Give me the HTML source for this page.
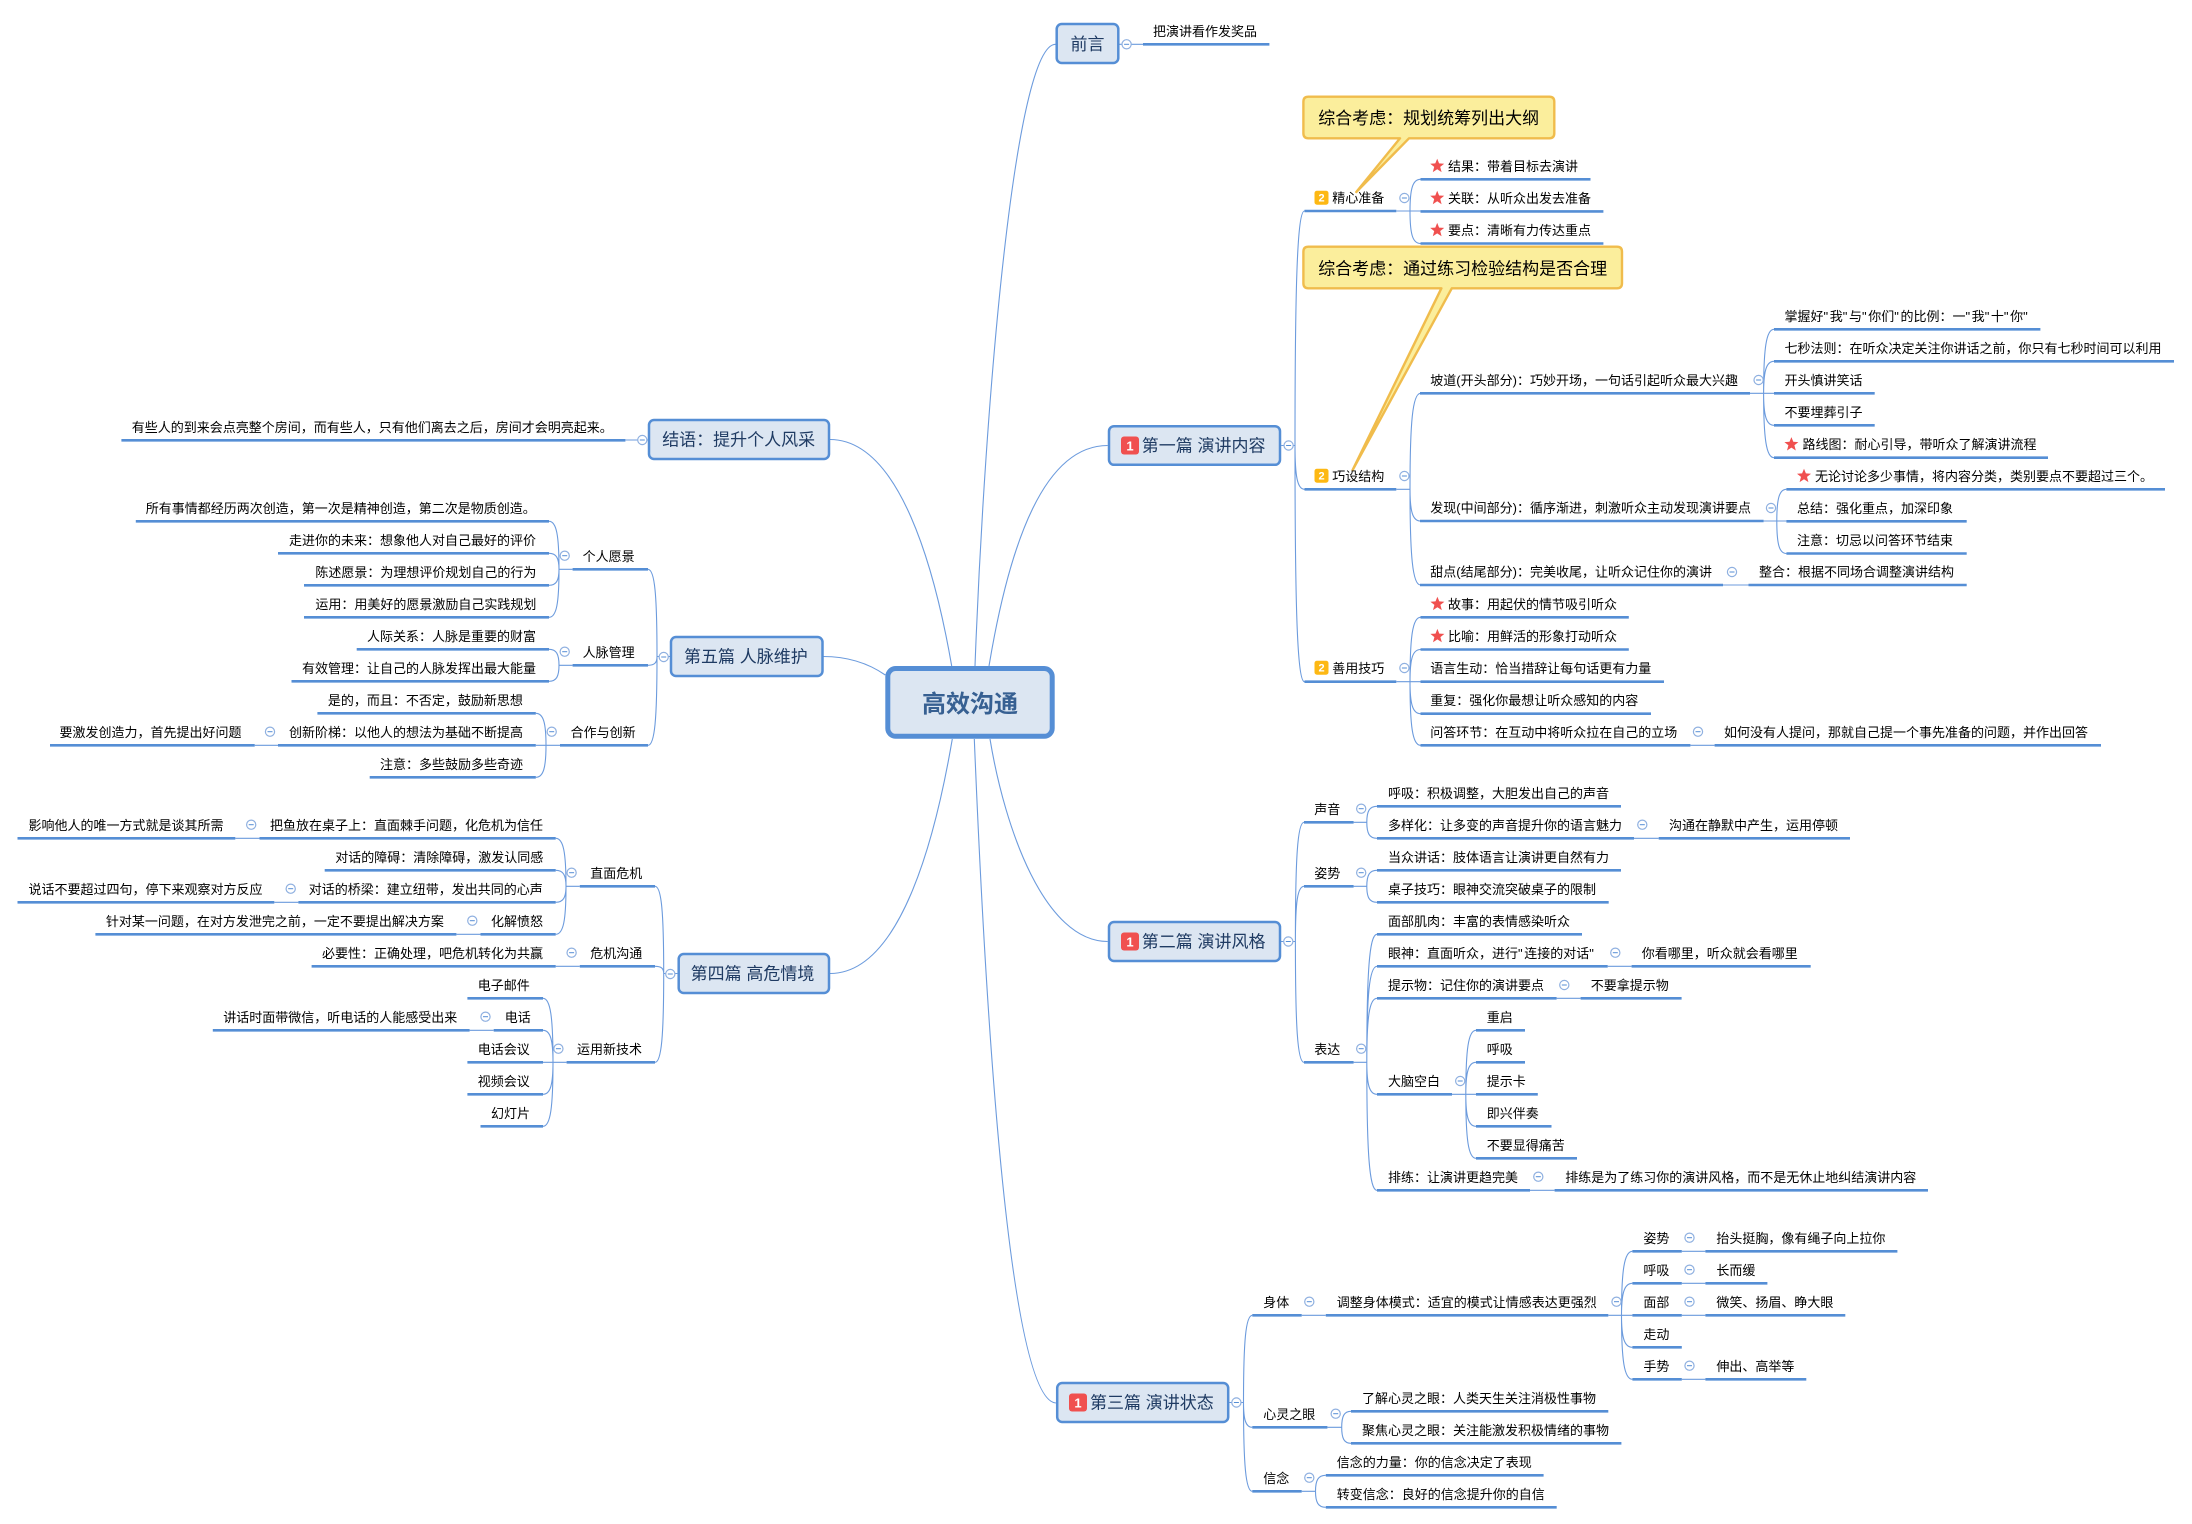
<!DOCTYPE html>
<html lang="zh"><head><meta charset="utf-8"><title>高效沟通</title>
<style>
html,body{margin:0;padding:0;background:#fff}
svg{display:block}
text{font-family:"Liberation Sans","Noto Sans CJK SC",sans-serif;font-size:13px;fill:#000}
.t text{font-size:17px;fill:#1F3B63}
.b text{font-size:17px;fill:#000}
.n{font-weight:700;fill:#fff!important;text-anchor:middle}
.q{letter-spacing:1.6px}
</style></head><body>
<svg width="2192" height="1524" viewBox="0 0 2192 1524" xmlns="http://www.w3.org/2000/svg">
<defs>
<g id="m"><circle r="4.6" fill="#fff" stroke="#8FB0E0" stroke-width="1.2"/><path d="M-2.5 0H2.5" stroke="#558ED5" stroke-width="1"/></g>
<polygon id="s" points="0,-7 1.9,-2.3 7,-2 3,1.2 4.4,6.4 0,3.5 -4.4,6.4 -3,1.2 -7,-2 -1.9,-2.3" fill="#F0504F"/>
</defs>
<rect width="2192" height="1524" fill="#fff"/>

<!-- main connectors -->
<g fill="none" stroke="#6C9BDD" stroke-width="1.1">
<path d="M975 666C985 400 1015 44.3 1055.5 44.3"/>
<path d="M989 666C1010 540 1045 445.5 1107.7 445.5"/>
<path d="M990 739C1005 830 1045 941.5 1107.7 941.5"/>
<path d="M974.3 739C985 1000 1008 1400 1055.9 1403"/>
<path d="M952.3 739C935 840 900 973.5 830 973.5"/>
<path d="M885.3 675C868 663 848 656.5 823 656.5"/>
<path d="M951.7 666C935 570 900 439.5 829.9 439.5"/>
</g>

<!-- thin branches -->
<g fill="none" stroke="#6C9BDD" stroke-width="1.1">
<path d="M1119.5 44.3H1143"/>
<path d="M1281.2 445.5H1295M1295 445.5c0-164 2.4-234.5 9.5-234.5M1295 445.5c0 31 2.4 43.8 9.5 43.8M1295 445.5c0 165 2.4 236.2 9.5 236.2"/>
<path d="M1396.3 211H1420.5M1410 211c0-22 2.6-31.7 10.5-31.7M1410 211c0 23 2.6 32.5 10.5 32.5"/>
<path d="M1396.3 489.3H1410M1410 489.3c0-67 2.6-96 10.5-96M1410 489.3c0 22 2.6 31.7 10.5 31.7M1410 489.3c0 67 2.6 95.7 10.5 95.7"/>
<path d="M1396.3 681.7H1420.5M1410 681.7c0-45 2.6-64.4 10.5-64.4M1410 681.7c0-23 2.6-32.2 10.5-32.2M1410 681.7c0 22 2.6 32 10.5 32M1410 681.7c0 45 2.6 63.6 10.5 63.6"/>
<path d="M1750 393.3H1774M1763.6 393.3c0-45 2.6-64 10.4-64M1763.6 393.3c0-22 2.6-32 10.4-32M1763.6 393.3c0 22 2.6 32 10.4 32M1763.6 393.3c0 45 2.6 64.4 10.4 64.4"/>
<path d="M1763.6 521H1786.4M1776.8 521c0-22 2.4-31.7 9.6-31.7M1776.8 521c0 23 2.4 32.5 9.6 32.5"/>
<path d="M1723 585H1748.5M1690.4 745.3H1714.6"/>

<path d="M1281 941.5H1295.4M1295.4 941.5c0-83 2.1-119.2 8.6-119.2M1295.4 941.5c0-39 2.1-55.2 8.6-55.2M1295.4 941.5c0 85 2.1 120.8 8.6 120.8"/>
<path d="M1353.6 822.3H1366.8M1366.8 822.3c0-11 2.5-16 10.2-16M1366.8 822.3c0 11 2.5 16 10.2 16"/>
<path d="M1353.6 886.3H1366.8M1366.8 886.3c0-11 2.5-16 10.2-16M1366.8 886.3c0 11 2.5 16 10.2 16"/>
<path d="M1353.6 1062.3H1366.8M1366.8 1062.3c0-90 2.5-128 10.2-128M1366.8 1062.3c0-67 2.5-96 10.2-96M1366.8 1062.3c0-45 2.5-64 10.2-64M1366.8 1062.3c0 22 2.5 32 10.2 32M1366.8 1062.3c0 90 2.5 128 10.2 128"/>
<path d="M1634 838.3H1658.7M1607.7 966.3H1631.6M1556.6 998.3H1580.6M1530 1190.3H1554.6"/>
<path d="M1452 1094.3H1476M1465.8 1094.3c0-45 2.5-64 10.2-64M1465.8 1094.3c0-22 2.5-32 10.2-32M1465.8 1094.3c0 22 2.5 32 10.2 32M1465.8 1094.3c0 45 2.5 64 10.2 64"/>

<path d="M1229.2 1402.5H1243.5M1243.5 1402.5c0-61 2.2-87.2 8.8-87.2M1243.5 1402.5c0 17 2.2 24.8 8.8 24.8M1243.5 1402.5c0 62 2.2 88.8 8.8 88.8"/>
<path d="M1301.7 1315.3H1325.8M1608.3 1315.3H1632.4M1621.5 1315.3c0-45 2.7-64 10.9-64M1621.5 1315.3c0-22 2.7-32 10.9-32M1621.5 1315.3c0 22 2.7 32 10.9 32M1621.5 1315.3c0 45 2.7 64 10.9 64"/>
<path d="M1681.8 1251.3H1705.4M1681.8 1283.3H1705.4M1681.8 1315.3H1705.4M1681.8 1379.3H1705.4"/>
<path d="M1327.4 1427.3H1341.7M1341.7 1427.3c0-11 2.3-16 9.3-16M1341.7 1427.3c0 11 2.3 16 9.3 16"/>
<path d="M1301.7 1491.3H1315.5M1315.5 1491.3c0-11 2.6-16 10.3-16M1315.5 1491.3c0 11 2.6 16 10.3 16"/>

<path d="M648 440H625.4"/>
<path d="M670 656.5H657M657 656.5c0-61-2.2-87.2-9-87.2M657 656.5c0 6-2.2 8.8-9 8.8M657 656.5c0 62-2.2 88.8-9 88.8"/>
<path d="M572.6 569.3H559M559 569.3c0-34-2.5-48-10-48M559 569.3c0-11-2.5-16-10-16M559 569.3c0 11-2.5 16-10 16M559 569.3c0 34-2.5 48-10 48"/>
<path d="M572.6 665.3H559M559 665.3c0-11-2.5-16-10-16M559 665.3c0 11-2.5 16-10 16"/>
<path d="M560 745.3H535.8M546 745.3c0-22-2.5-32-10.2-32M546 745.3c0 22-2.5 32-10.2 32M278 745.3H254.7"/>

<path d="M677.4 973.5H663.7M663.7 973.5c0-61-2.2-87.2-8.7-87.2M663.7 973.5c0-5-2.2-7.2-8.7-7.2M663.7 973.5c0 62-2.2 88.8-8.7 88.8"/>
<path d="M579.8 886.3H566M566 886.3c0-34-2.6-48-10.3-48M566 886.3c0-11-2.6-16-10.3-16M566 886.3c0 11-2.6 16-10.3 16M566 886.3c0 34-2.6 48-10.3 48"/>
<path d="M298.4 902.3H274.3M259.5 838.3H235.3M480.5 934.3H456.4M579.8 966.3H555.7M493.7 1030.3H469.6"/>
<path d="M566.6 1062.3H543M553 1062.3c0-45-2.5-64-10-64M553 1062.3c0-22-2.5-32-10-32M553 1062.3c0 22-2.5 32-10 32M553 1062.3c0 45-2.5 64-10 64"/>
</g>

<!-- thick underlines -->
<path fill="none" stroke="#558ED5" stroke-width="2.6" d="
M1143 44.3H1269.4
M1304.5 211H1396.3M1304.5 489.3H1396.3M1304.5 681.7H1396.3
M1420.5 179.3H1590.5M1420.5 211.4H1603.4M1420.5 243.5H1603.4
M1420 393.3H1750M1420 521H1763.6M1420 585H1723M1748.5 585H1966.7
M1774 329.3H2040.4M1774 361.3H2174M1774 393.3H1874.7M1774 425.3H1874.7M1774 457.7H2048
M1786.4 489.3H2165M1786.4 521.3H1966.7M1786.4 553.5H1966.7
M1420.5 617.3H1628.8M1420.5 649.5H1628.8M1420.5 681.7H1664M1420.5 713.7H1651M1420.5 745.3H1690.4M1714.6 745.3H2101
M1304 822.3H1353.6M1304 886.3H1353.6M1304 1062.3H1353.6
M1377 806.3H1621M1377 838.3H1634M1658.7 838.3H1850M1377 870.3H1621M1377 902.3H1608.7
M1377 934.3H1582M1377 966.3H1607.7M1631.6 966.3H1810.7M1377 998.3H1556.6M1580.6 998.3H1681.6
M1377 1094.3H1452M1377 1190.3H1530M1554.6 1190.3H1928
M1476 1030.3H1525M1476 1062.3H1525M1476 1094.3H1537.8M1476 1126.3H1551.5M1476 1158.3H1577
M1252.3 1315.3H1301.7M1325.8 1315.3H1608.3M1252.3 1427.3H1327.4M1252.3 1491.3H1301.7
M1632.4 1251.3H1681.8M1705.4 1251.3H1897.4M1632.4 1283.3H1681.8M1705.4 1283.3H1767.4M1632.4 1315.3H1681.8M1705.4 1315.3H1845.3M1632.4 1347.3H1681.8M1632.4 1379.3H1681.8M1705.4 1379.3H1806.3
M1351 1411.3H1608.3M1351 1443.3H1621.4M1325.8 1475.3H1543.6M1325.8 1507.3H1556.7
M121.4 440.3H625.4
M572.6 569.3H648M572.6 665.3H648M560 745.3H648
M135.8 521.3H549M278 553.3H549M304 585.3H549M304 617.3H549M356.7 649.3H549M291.5 681.3H549
M317.4 713.3H535.8M278 745.3H535.8M50 745.3H254.7M369.7 777.3H535.8
M579.8 886.3H655M579.8 966.3H655M566.6 1062.3H655
M259.5 838.3H555.7M17.5 838.3H235.3M324.7 870.3H555.7M298.4 902.3H555.7M17.5 902.3H274.3M480.5 934.3H555.7M95.4 934.3H456.4M311.6 966.3H555.7
M467.4 998.3H543M493.7 1030.3H543M212.8 1030.3H469.6M467.4 1062.3H543M467.4 1094.3H543M480.5 1126.3H543
"/>

<!-- callouts -->
<g fill="#FBEE9C" stroke="#F0BC4C" stroke-width="2.4" stroke-linejoin="round">
<path d="M1308 96.7H1549.3q5 0 5 5V133.3q0 5-5 5H1409L1356.3 192L1400 138.3H1308.4q-5 0-5-5V101.7q0-5 5-5z"/>
<path d="M1308 246.7H1617q5 0 5 5V283.3q0 5-5 5H1451.8L1352.6 470L1441.4 288.3H1308.4q-5 0-5-5V251.7q0-5 5-5z"/>
</g>

<!-- central & topics -->
<rect x="887.8" y="668.5" width="164.4" height="67.8" rx="8" fill="#DCE6F2" stroke="#558ED5" stroke-width="5"/>
<text x="970" y="712" text-anchor="middle" style="font-size:24px;font-weight:700;fill:#376092">高效沟通</text>
<g fill="#DCE6F2" stroke="#558ED5" stroke-width="2.5">
<rect x="1056.7" y="24" width="61.6" height="39" rx="5"/>
<rect x="1109" y="426.2" width="171" height="38.6" rx="5"/>
<rect x="1109" y="922" width="171" height="39" rx="5"/>
<rect x="1057.2" y="1383" width="171" height="39" rx="5"/>
<rect x="649" y="420" width="180" height="39" rx="5"/>
<rect x="671" y="637" width="151.5" height="39" rx="5"/>
<rect x="678.7" y="954" width="150.3" height="39" rx="5"/>
</g>
<g fill="#F0504F">
<rect x="1121" y="436.5" width="18" height="18" rx="3"/>
<rect x="1121" y="932.5" width="18" height="18" rx="3"/>
<rect x="1069" y="1393.5" width="18" height="18" rx="3"/>
</g>
<g fill="#FDB813">
<rect x="1314.5" y="190.7" width="14" height="14" rx="2.5"/>
<rect x="1314.5" y="468.7" width="14" height="14" rx="2.5"/>
<rect x="1314.5" y="660.7" width="14" height="14" rx="2.5"/>
</g>
<text class="n" x="1130" y="450.5" style="font-size:13px">1</text>
<text class="n" x="1130" y="946.5" style="font-size:13px">1</text>
<text class="n" x="1078" y="1407.5" style="font-size:13px">1</text>
<text class="n" x="1321.5" y="201.7" style="font-size:11px">2</text>
<text class="n" x="1321.5" y="479.7" style="font-size:11px">2</text>
<text class="n" x="1321.5" y="671.7" style="font-size:11px">2</text>

<g class="t">
<text x="1070.5" y="50">前言</text>
<text x="1141.8" y="451.5">第一篇 演讲内容</text>
<text x="1141.8" y="947.5">第二篇 演讲风格</text>
<text x="1090" y="1408.5">第三篇 演讲状态</text>
<text x="662.2" y="445.5">结语：提升个人风采</text>
<text x="684" y="662.5">第五篇 人脉维护</text>
<text x="690.6" y="979.5">第四篇 高危情境</text>
</g>
<g class="b">
<text x="1318.2" y="124">综合考虑：规划统筹列出大纲</text>
<text x="1318.2" y="274.5">综合考虑：通过练习检验结构是否合理</text>
</g>

<!-- stars -->
<g>
<use href="#s" x="1437.2" y="165.7"/><use href="#s" x="1437.2" y="197.8"/><use href="#s" x="1437.2" y="229.9"/>
<use href="#s" x="1791.4" y="444.1"/><use href="#s" x="1804" y="475.7"/>
<use href="#s" x="1437.4" y="603.7"/><use href="#s" x="1437.4" y="635.9"/>
</g>

<!-- collapse icons -->
<g>
<use href="#m" x="1126.6" y="44.3"/><use href="#m" x="1288.6" y="445.5"/><use href="#m" x="1404.4" y="198"/><use href="#m" x="1404.4" y="476"/><use href="#m" x="1404.4" y="668"/>
<use href="#m" x="1758.6" y="380"/><use href="#m" x="1771" y="508"/><use href="#m" x="1732" y="572"/><use href="#m" x="1698" y="731.7"/>
<use href="#m" x="1288.3" y="941.5"/><use href="#m" x="1361.2" y="808.7"/><use href="#m" x="1361.2" y="872.7"/><use href="#m" x="1361.2" y="1048.7"/>
<use href="#m" x="1642.3" y="824.7"/><use href="#m" x="1615.3" y="952.7"/><use href="#m" x="1564.3" y="985"/><use href="#m" x="1460.2" y="1081"/><use href="#m" x="1538.3" y="1176.7"/>
<use href="#m" x="1236.4" y="1402.5"/><use href="#m" x="1309.3" y="1301.7"/><use href="#m" x="1309.3" y="1477.7"/><use href="#m" x="1335.7" y="1413.7"/><use href="#m" x="1616.5" y="1301.7"/>
<use href="#m" x="1689.5" y="1237.7"/><use href="#m" x="1689.5" y="1269.7"/><use href="#m" x="1689.5" y="1301.7"/><use href="#m" x="1689.5" y="1365.7"/>
<use href="#m" x="642.3" y="440"/><use href="#m" x="663.7" y="657"/><use href="#m" x="564.7" y="555.7"/><use href="#m" x="564.7" y="651.7"/><use href="#m" x="551.7" y="731.7"/><use href="#m" x="270" y="731.7"/>
<use href="#m" x="670.3" y="974"/><use href="#m" x="571.6" y="872.7"/><use href="#m" x="571.6" y="952.7"/><use href="#m" x="558.4" y="1048.7"/>
<use href="#m" x="251.2" y="824.7"/><use href="#m" x="290.7" y="888.7"/><use href="#m" x="472.3" y="920.7"/><use href="#m" x="485.5" y="1016.7"/>
</g>

<!-- labels -->
<g>
<text x="1153" y="35.8">把演讲看作发奖品</text>
<text x="1332.3" y="202.5">精心准备</text>
<text x="1332.3" y="480.8">巧设结构</text>
<text x="1332.3" y="673.2">善用技巧</text>
<text x="1448" y="170.8">结果：带着目标去演讲</text>
<text x="1448" y="202.9">关联：从听众出发去准备</text>
<text x="1448" y="235">要点：清晰有力传达重点</text>
<text x="1430.3" y="384.8">坡道(开头部分)：巧妙开场，一句话引起听众最大兴趣</text>
<text x="1430.3" y="512.5">发现(中间部分)：循序渐进，刺激听众主动发现演讲要点</text>
<text x="1430.3" y="576.5">甜点(结尾部分)：完美收尾，让听众记住你的演讲</text>
<text x="1759" y="576.5">整合：根据不同场合调整演讲结构</text>
<text x="1784.5" y="320.8">掌握好<tspan class="q">"</tspan>我<tspan class="q">"</tspan>与<tspan class="q">"</tspan>你们<tspan class="q">"</tspan>的比例：一<tspan class="q">"</tspan>我<tspan class="q">"</tspan>十<tspan class="q">"</tspan>你<tspan class="q">"</tspan></text>
<text x="1784.5" y="352.8">七秒法则：在听众决定关注你讲话之前，你只有七秒时间可以利用</text>
<text x="1784.5" y="384.8">开头慎讲笑话</text>
<text x="1784.5" y="416.8">不要埋葬引子</text>
<text x="1802.5" y="449.2">路线图：耐心引导，带听众了解演讲流程</text>
<text x="1815" y="480.8">无论讨论多少事情，将内容分类，类别要点不要超过三个。</text>
<text x="1797" y="512.8">总结：强化重点，加深印象</text>
<text x="1797" y="545">注意：切忌以问答环节结束</text>
<text x="1448" y="608.8">故事：用起伏的情节吸引听众</text>
<text x="1448" y="641">比喻：用鲜活的形象打动听众</text>
<text x="1430.3" y="673.2">语言生动：恰当措辞让每句话更有力量</text>
<text x="1430.3" y="705.2">重复：强化你最想让听众感知的内容</text>
<text x="1430.3" y="736.8">问答环节：在互动中将听众拉在自己的立场</text>
<text x="1724" y="736.8">如何没有人提问，那就自己提一个事先准备的问题，并作出回答</text>

<text x="1314.3" y="813.8">声音</text>
<text x="1314.3" y="877.8">姿势</text>
<text x="1314.3" y="1053.8">表达</text>
<text x="1388" y="797.8">呼吸：积极调整，大胆发出自己的声音</text>
<text x="1388" y="829.8">多样化：让多变的声音提升你的语言魅力</text>
<text x="1669" y="829.8">沟通在静默中产生，运用停顿</text>
<text x="1388" y="861.8">当众讲话：肢体语言让演讲更自然有力</text>
<text x="1388" y="893.8">桌子技巧：眼神交流突破桌子的限制</text>
<text x="1388" y="925.8">面部肌肉：丰富的表情感染听众</text>
<text x="1388" y="957.8">眼神：直面听众，进行<tspan class="q">"</tspan>连接的对话<tspan class="q">"</tspan></text>
<text x="1641.8" y="957.8">你看哪里，听众就会看哪里</text>
<text x="1388" y="989.8">提示物：记住你的演讲要点</text>
<text x="1590.8" y="989.8">不要拿提示物</text>
<text x="1388" y="1085.8">大脑空白</text>
<text x="1486.7" y="1021.8">重启</text>
<text x="1486.7" y="1053.8">呼吸</text>
<text x="1486.7" y="1085.8">提示卡</text>
<text x="1486.7" y="1117.8">即兴伴奏</text>
<text x="1486.7" y="1149.8">不要显得痛苦</text>
<text x="1388" y="1181.8">排练：让演讲更趋完美</text>
<text x="1565.3" y="1181.8">排练是为了练习你的演讲风格，而不是无休止地纠结演讲内容</text>

<text x="1263.3" y="1306.8">身体</text>
<text x="1336.8" y="1306.8">调整身体模式：适宜的模式让情感表达更强烈</text>
<text x="1643.4" y="1242.8">姿势</text>
<text x="1716.4" y="1242.8">抬头挺胸，像有绳子向上拉你</text>
<text x="1643.4" y="1274.8">呼吸</text>
<text x="1716.4" y="1274.8">长而缓</text>
<text x="1643.4" y="1306.8">面部</text>
<text x="1716.4" y="1306.8">微笑、扬眉、睁大眼</text>
<text x="1643.4" y="1338.8">走动</text>
<text x="1643.4" y="1370.8">手势</text>
<text x="1716.4" y="1370.8">伸出、高举等</text>
<text x="1263.3" y="1418.8">心灵之眼</text>
<text x="1362" y="1402.8">了解心灵之眼：人类天生关注消极性事物</text>
<text x="1362" y="1434.8">聚焦心灵之眼：关注能激发积极情绪的事物</text>
<text x="1263.3" y="1482.8">信念</text>
<text x="1336.8" y="1466.8">信念的力量：你的信念决定了表现</text>
<text x="1336.8" y="1498.8">转变信念：良好的信念提升你的自信</text>

<text x="131.8" y="431.8">有些人的到来会点亮整个房间，而有些人，只有他们离去之后，房间才会明亮起来。</text>
<text x="582.6" y="560.8">个人愿景</text>
<text x="582.6" y="656.8">人脉管理</text>
<text x="570.6" y="736.8">合作与创新</text>
<text x="145.8" y="512.8">所有事情都经历两次创造，第一次是精神创造，第二次是物质创造。</text>
<text x="289" y="544.8">走进你的未来：想象他人对自己最好的评价</text>
<text x="315.4" y="576.8">陈述愿景：为理想评价规划自己的行为</text>
<text x="315.4" y="608.8">运用：用美好的愿景激励自己实践规划</text>
<text x="367" y="640.8">人际关系：人脉是重要的财富</text>
<text x="302" y="672.8">有效管理：让自己的人脉发挥出最大能量</text>
<text x="327.9" y="704.8">是的，而且：不否定，鼓励新思想</text>
<text x="289" y="736.8">创新阶梯：以他人的想法为基础不断提高</text>
<text x="59.5" y="736.8">要激发创造力，首先提出好问题</text>
<text x="380" y="768.8">注意：多些鼓励多些奇迹</text>

<text x="590.2" y="877.8">直面危机</text>
<text x="590.2" y="957.8">危机沟通</text>
<text x="577" y="1053.8">运用新技术</text>
<text x="270" y="829.8">把鱼放在桌子上：直面棘手问题，化危机为信任</text>
<text x="28.5" y="829.8">影响他人的唯一方式就是谈其所需</text>
<text x="335.2" y="861.8">对话的障碍：清除障碍，激发认同感</text>
<text x="308.8" y="893.8">对话的桥梁：建立纽带，发出共同的心声</text>
<text x="28.5" y="893.8">说话不要超过四句，停下来观察对方反应</text>
<text x="491" y="925.8">化解愤怒</text>
<text x="105.9" y="925.8">针对某一问题，在对方发泄完之前，一定不要提出解决方案</text>
<text x="322" y="957.8">必要性：正确处理，吧危机转化为共赢</text>
<text x="477.8" y="989.8">电子邮件</text>
<text x="504.7" y="1021.8">电话</text>
<text x="223.3" y="1021.8">讲话时面带微信，听电话的人能感受出来</text>
<text x="477.8" y="1053.8">电话会议</text>
<text x="477.8" y="1085.8">视频会议</text>
<text x="491" y="1117.8">幻灯片</text>
</g>
</svg>
</body></html>
